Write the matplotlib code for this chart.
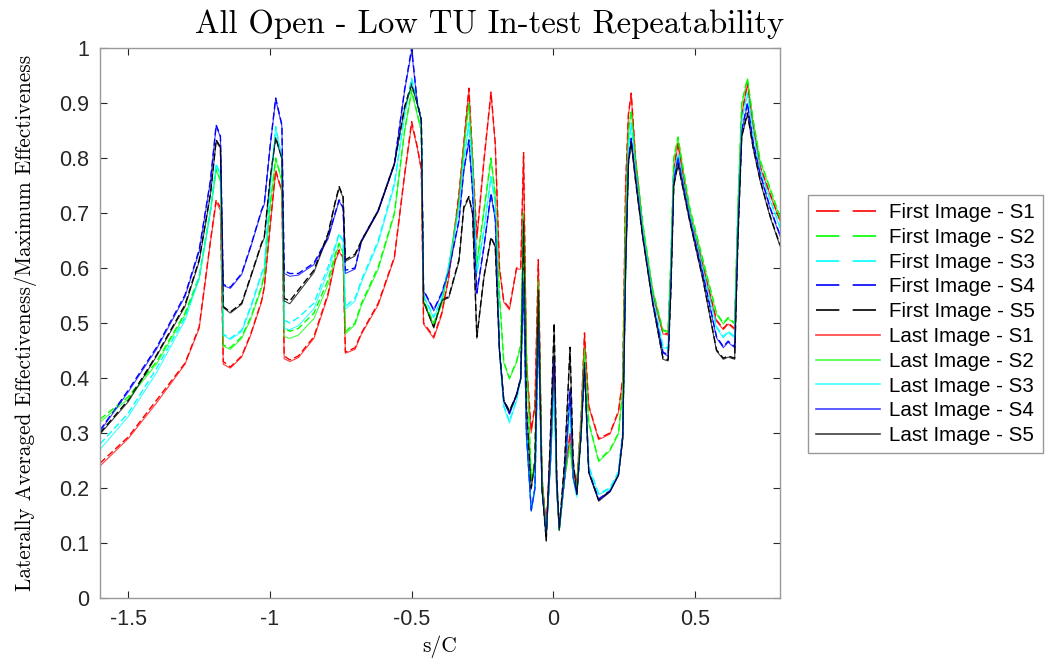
import matplotlib
matplotlib.use("Agg")
import matplotlib.pyplot as plt
from matplotlib.lines import Line2D
from matplotlib.ticker import FuncFormatter

plt.rcParams['axes.unicode_minus'] = False

# s/C positions (shared by all series)
s_c = [-1.60, -1.50, -1.40, -1.30, -1.25, -1.21, -1.19, -1.175, -1.165, -1.14,
       -1.10, -1.068, -1.03, -1.02, -1.00, -0.98, -0.958, -0.950, -0.93, -0.90,
       -0.845, -0.795, -0.77, -0.756, -0.742, -0.734, -0.70, -0.677, -0.618, -0.561,
       -0.525, -0.50, -0.48, -0.466, -0.458, -0.422, -0.394, -0.369, -0.333, -0.316,
       -0.298, -0.285, -0.27, -0.245, -0.22, -0.205, -0.19, -0.175, -0.155, -0.13,
       -0.115, -0.105, -0.095, -0.078, -0.065, -0.053, -0.04, -0.025, -0.01, 0.003,
       0.012, 0.021, 0.04, 0.059, 0.07, 0.083, 0.098, 0.11, 0.125, 0.16,
       0.20, 0.23, 0.245, 0.255, 0.265, 0.275, 0.29, 0.316, 0.351, 0.387,
       0.405, 0.415, 0.425, 0.44, 0.481, 0.528, 0.576, 0.60, 0.617, 0.64,
       0.652, 0.665, 0.685, 0.705, 0.73, 0.765, 0.80]

first_s1 = [.245, .293, .36, .427, .493, .65, .724, .71, .43, .42,
            .44, .48, .54, .566, .675, .778, .74, .44, .433, .44,
            .475, .554, .615, .633, .62, .447, .455, .482, .536, .62,
            .77, .866, .82, .78, .50, .475, .518, .584, .736, .827,
            .927, .80, .656, .796, .92, .827, .60, .54, .527, .60,
            .60, .81, .43, .305, .35, .615, .22, .13, .27, .42,
            .20, .125, .22, .30, .23, .21, .33, .482, .35, .29,
            .30, .34, .40, .75, .88, .918, .80, .67, .555, .482,
            .48, .60, .78, .827, .70, .605, .505, .49, .50, .49,
            .70, .88, .936, .86, .785, .735, .687]
first_s2 = [.325, .366, .43, .518, .584, .706, .78, .76, .46, .455,
            .475, .51, .566, .59, .711, .80, .76, .49, .485, .49,
            .518, .578, .625, .645, .63, .484, .50, .536, .602, .70,
            .85, .924, .88, .85, .54, .50, .536, .602, .724, .82,
            .90, .80, .609, .705, .80, .735, .55, .43, .40, .43,
            .46, .70, .45, .215, .25, .58, .22, .12, .25, .40,
            .20, .125, .22, .28, .22, .205, .32, .455, .32, .25,
            .27, .30, .38, .70, .85, .887, .80, .68, .56, .487,
            .485, .62, .80, .838, .711, .615, .518, .50, .51, .50,
            .72, .90, .945, .87, .796, .745, .693]
first_s3 = [.28, .336, .418, .51, .584, .706, .79, .77, .48, .472,
            .487, .53, .59, .602, .742, .857, .80, .505, .50, .51,
            .536, .602, .64, .663, .65, .53, .545, .578, .65, .754,
            .88, .945, .90, .87, .55, .511, .545, .605, .71, .796,
            .864, .78, .591, .67, .766, .72, .45, .35, .321, .36,
            .40, .60, .30, .16, .20, .50, .20, .12, .25, .38,
            .20, .125, .22, .35, .22, .185, .30, .43, .24, .19,
            .20, .23, .30, .60, .82, .863, .78, .67, .55, .457,
            .455, .60, .77, .809, .70, .60, .493, .475, .485, .475,
            .70, .87, .918, .85, .78, .725, .675]
first_s4 = [.305, .378, .456, .551, .633, .76, .86, .84, .57, .565,
            .59, .64, .705, .718, .82, .909, .86, .595, .59, .59,
            .609, .656, .70, .724, .71, .596, .60, .65, .705, .79,
            .924, 1.0, .90, .87, .56, .524, .555, .596, .687, .778,
            .833, .74, .555, .639, .736, .69, .45, .36, .336, .37,
            .40, .58, .30, .16, .20, .50, .20, .12, .25, .44,
            .20, .13, .22, .38, .22, .19, .30, .42, .23, .18,
            .195, .225, .30, .60, .80, .836, .77, .66, .54, .447,
            .442, .58, .76, .802, .693, .59, .475, .457, .467, .457,
            .68, .85, .90, .83, .772, .71, .66]
first_s5 = [.30, .36, .442, .533, .615, .736, .833, .82, .53, .52,
            .536, .585, .645, .657, .76, .838, .80, .545, .54, .56,
            .596, .663, .72, .748, .73, .615, .625, .65, .705, .79,
            .893, .936, .90, .87, .54, .493, .542, .548, .615, .711,
            .73, .70, .475, .584, .656, .64, .45, .36, .34, .37,
            .40, .69, .35, .20, .25, .566, .20, .105, .30, .50,
            .22, .125, .25, .456, .25, .19, .30, .43, .23, .178,
            .195, .225, .29, .60, .79, .83, .76, .655, .536, .436,
            .433, .56, .75, .79, .687, .58, .451, .436, .44, .436,
            .66, .84, .882, .82, .76, .695, .642]

last_s1 = [.24, .29, .355, .425, .49, .648, .72, .705, .425, .418,
           .438, .478, .538, .565, .672, .775, .738, .435, .43, .437,
           .472, .55, .612, .63, .618, .445, .452, .48, .533, .618,
           .768, .862, .818, .778, .498, .472, .515, .582, .733, .825,
           .925, .798, .652, .793, .918, .825, .598, .538, .524, .598,
           .598, .805, .428, .30, .348, .61, .218, .128, .268, .418,
           .198, .123, .218, .298, .228, .208, .328, .478, .348, .288,
           .298, .338, .398, .745, .878, .915, .798, .668, .552, .48,
           .478, .598, .778, .825, .698, .603, .503, .488, .498, .488,
           .698, .878, .934, .858, .783, .733, .685]
last_s2 = [.32, .362, .426, .515, .58, .703, .778, .758, .458, .452,
           .472, .507, .563, .588, .708, .798, .758, .475, .472, .478,
           .508, .57, .62, .642, .628, .48, .497, .532, .598, .697,
           .848, .92, .878, .848, .538, .498, .533, .6, .72, .818,
           .898, .798, .606, .702, .797, .732, .548, .428, .398, .428,
           .458, .695, .448, .213, .248, .575, .218, .118, .248, .398,
           .198, .123, .218, .278, .218, .203, .318, .452, .318, .248,
           .268, .298, .378, .695, .848, .885, .798, .678, .558, .485,
           .483, .618, .798, .836, .709, .613, .516, .498, .508, .498,
           .718, .898, .943, .868, .794, .743, .69]
last_s3 = [.27, .33, .41, .505, .58, .703, .787, .768, .478, .47,
           .484, .527, .587, .6, .74, .855, .798, .49, .488, .495,
           .526, .594, .636, .66, .648, .525, .54, .574, .646, .75,
           .877, .942, .898, .868, .548, .509, .543, .603, .708, .794,
           .862, .778, .589, .668, .764, .718, .448, .348, .318, .358,
           .398, .595, .298, .158, .198, .495, .198, .118, .248, .378,
           .198, .123, .218, .348, .218, .183, .298, .428, .238, .188,
           .198, .228, .298, .598, .818, .861, .778, .668, .548, .455,
           .453, .598, .768, .807, .698, .598, .491, .473, .483, .473,
           .698, .868, .916, .848, .778, .723, .673]
last_s4 = [.303, .375, .453, .548, .63, .758, .858, .838, .568, .563,
           .588, .638, .703, .716, .818, .907, .858, .59, .585, .587,
           .606, .653, .698, .722, .708, .59, .598, .648, .703, .788,
           .922, .995, .898, .868, .558, .522, .553, .594, .685, .776,
           .831, .738, .553, .637, .734, .688, .448, .358, .334, .368,
           .398, .575, .298, .158, .198, .495, .198, .118, .248, .435,
           .198, .128, .218, .375, .218, .188, .298, .418, .228, .178,
           .193, .223, .298, .598, .798, .834, .768, .658, .538, .445,
           .44, .578, .758, .8, .691, .588, .473, .455, .465, .455,
           .678, .848, .898, .828, .77, .708, .658]
last_s5 = [.298, .357, .44, .53, .612, .734, .83, .818, .528, .518,
           .534, .583, .643, .655, .758, .836, .798, .54, .535, .555,
           .592, .66, .718, .745, .728, .612, .622, .648, .703, .788,
           .89, .932, .898, .868, .538, .491, .54, .546, .612, .708,
           .728, .698, .472, .582, .654, .638, .448, .358, .338, .368,
           .398, .685, .348, .198, .248, .56, .198, .103, .298, .495,
           .218, .123, .248, .452, .248, .188, .298, .428, .228, .176,
           .193, .223, .288, .598, .788, .828, .758, .653, .534, .434,
           .431, .558, .748, .788, .685, .578, .449, .434, .438, .434,
           .658, .838, .88, .818, .758, .693, .64]

colors = ['#ff0000', '#00ff00', '#00ffff', '#0000ff', '#000000']
first_sets = [first_s1, first_s2, first_s3, first_s4, first_s5]
last_sets = [last_s1, last_s2, last_s3, last_s4, last_s5]
names = ['S1', 'S2', 'S3', 'S4', 'S5']

fig = plt.figure(figsize=(10.5, 6.6), dpi=100)
ax = fig.add_axes([100/1050, 62/660, 680/1050, 550/660])

for y, c in zip(first_sets, colors):
    ax.plot(s_c, y, color=c, lw=1.0, dashes=(5, 2.5))
for y, c in zip(last_sets, colors):
    ax.plot(s_c, y, color=c, lw=0.8, alpha=0.75)

ax.set_xlim(-1.6, 0.8)
ax.set_ylim(0, 1)
ax.set_xticks([-1.5, -1, -0.5, 0, 0.5])
ax.set_yticks([i / 10 for i in range(11)])
fmt = FuncFormatter(lambda v, p: '%g' % round(v, 2))
ax.xaxis.set_major_formatter(fmt)
ax.yaxis.set_major_formatter(fmt)
ax.tick_params(direction='in', length=5, width=0.8, top=True, right=True,
               labelsize=15.5, colors='0.15', pad=8)
for lab in ax.get_xticklabels() + ax.get_yticklabels():
    lab.set_family('Liberation Sans')
for sp in ax.spines.values():
    sp.set_color('0.6')
    sp.set_linewidth(1.0)

ax.set_xlabel('s/C', family='cmr10', fontsize=15.5, labelpad=4)
ax.set_ylabel('Laterally Averaged Effectiveness/Maximum Effectiveness',
              family='cmr10', fontsize=15.3, labelpad=16)
fig.text(490/1050, 1 - 24/660, 'All Open - Low TU In-test Repeatability',
         family='cmr10', fontsize=23.5, ha='center', va='center')

handles = []
labels = []
for c, n in zip(colors, names):
    handles.append(Line2D([], [], color=c, lw=1.2, dashes=(14, 8)))
    labels.append('First Image - ' + n)
for c, n in zip(colors, names):
    handles.append(Line2D([], [], color=c, lw=1.2, alpha=0.75))
    labels.append('Last Image - ' + n)
leg = fig.legend(handles, labels, loc='upper left',
                 bbox_to_anchor=(808/1050, 1 - 195/660), borderaxespad=0,
                 prop={'family': 'Liberation Sans', 'size': 14.8},
                 handlelength=3.1, handletextpad=0.45, labelspacing=0.28,
                 fancybox=False, framealpha=1, edgecolor='0.6',
                 borderpad=0.4)
leg.get_frame().set_linewidth(1.0)

fig.savefig('out.png', dpi=100)
